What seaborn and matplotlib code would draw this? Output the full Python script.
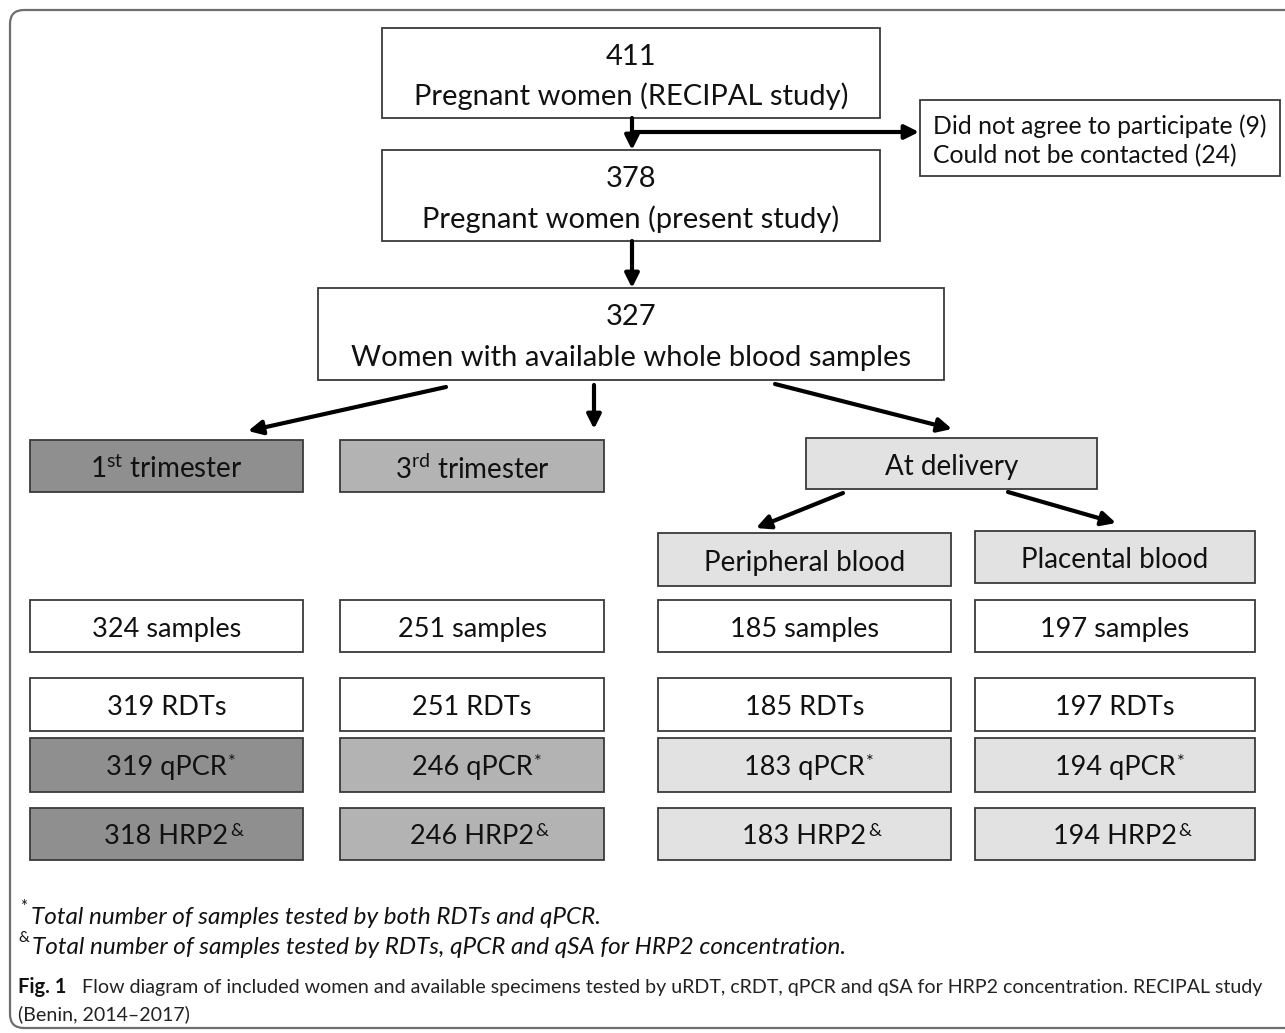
import matplotlib
matplotlib.use("Agg")
import matplotlib.pyplot as plt
from matplotlib.patches import FancyBboxPatch, Rectangle
import seaborn as sns

# ------------------------------------------------------------
# Data
# ------------------------------------------------------------
flow_counts = [411, 378, 327]
flow_labels = ["Pregnant women (RECIPAL study)",
               "Pregnant women (present study)",
               "Women with available whole blood samples"]
excluded_labels = ["Did not agree to participate", "Could not be contacted"]
excluded_counts = [9, 24]

groups = ["1$\\mathregular{^{st}}$ trimester", "3$\\mathregular{^{rd}}$ trimester",
          "Peripheral blood", "Placental blood"]
delivery_label = "At delivery"
samples = [324, 251, 185, 197]
rdts = [319, 251, 185, 197]
qpcr = [319, 246, 183, 194]
hrp2 = [318, 246, 183, 194]

footnotes = ["Total number of samples tested by both RDTs and qPCR.",
             "Total number of samples tested by RDTs, qPCR and qSA for HRP2 concentration."]
caption = ("Flow diagram of included women and available specimens tested by uRDT, cRDT, "
           "qPCR and qSA for HRP2 concentration. RECIPAL study")
caption2 = "(Benin, 2014\u20132017)"

# ------------------------------------------------------------
# Style
# ------------------------------------------------------------
sns.set_theme(style="white")
plt.rcParams['font.family'] = ['Lato', 'DejaVu Sans']
plt.rcParams['mathtext.fontset'] = 'custom'
plt.rcParams['mathtext.rm'] = 'Lato'
plt.rcParams['mathtext.it'] = 'Lato:italic'

group_fill = ["#8f8f8f", "#b3b3b3", "#e2e2e2", "#e2e2e2"]
edge = "#3a3a3a"
ink = "#111111"

fig = plt.figure(figsize=(12.85, 10.33), dpi=100)
ax = fig.add_axes([0, 0, 1, 1])
ax.set_xlim(0, 1285)
ax.set_ylim(1033, 0)
ax.axis("off")

# outer frame (right side runs past the image)
ax.add_patch(FancyBboxPatch((10, 10), 1320, 1018,
                            boxstyle="round,pad=0,rounding_size=14",
                            fc="none", ec="#6e6e6e", lw=1.6))


def box(x0, x1, y0, y1, text, fc="white", size=20, sup=None):
    ax.add_patch(Rectangle((x0, y0), x1 - x0, y1 - y0, fc=fc, ec=edge, lw=1.3, zorder=2))
    t = ax.text((x0 + x1) / 2, (y0 + y1) / 2 + 3, text, ha="center", va="center",
                fontsize=size, color=ink, zorder=3)
    if sup:
        ax.annotate(sup, xy=(1.0, 1.0), xycoords=t, ha="left", va="top",
                    fontsize=size * 0.68, color=ink, zorder=3,
                    xytext=(1, 1), textcoords="offset points")
    return t


def arrow(x0, y0, x1, y1):
    ax.annotate("", xy=(x1, y1), xytext=(x0, y0),
                arrowprops=dict(arrowstyle="-|>,head_length=0.7,head_width=0.35",
                                color="black", lw=3, shrinkA=0, shrinkB=0), zorder=4)


# top flow boxes
flow_geom = [(382, 880, 28, 118), (382, 880, 150, 241), (318, 944, 288, 380)]
for (x0, x1, y0, y1), n, lab in zip(flow_geom, flow_counts, flow_labels):
    ax.add_patch(Rectangle((x0, y0), x1 - x0, y1 - y0, fc="white", ec=edge, lw=1.3, zorder=2))
    cx = (x0 + x1) / 2
    ax.text(cx, y0 + 0.32 * (y1 - y0), str(n), ha="center", va="center",
            fontsize=21, color=ink, zorder=3)
    ax.text(cx, y0 + 0.76 * (y1 - y0), lab, ha="center", va="center",
            fontsize=21, color=ink, zorder=3)

# excluded box
ax.add_patch(Rectangle((920, 100), 360, 76, fc="white", ec=edge, lw=1.3, zorder=2))
for i, (lab, n) in enumerate(zip(excluded_labels, excluded_counts)):
    ax.text(933, 126 + 30 * i, f"{lab} ({n})", ha="left", va="center",
            fontsize=17.8, color=ink)

# arrows of the flow
ax.plot([632, 632], [118, 132], color="black", lw=3, zorder=4)
arrow(632, 132, 632, 150)
arrow(632, 132, 919, 132)
arrow(632, 241, 632, 288)
arrow(446, 387, 248, 431)
arrow(594, 385, 594, 429)
arrow(775, 384, 952, 429)
arrow(843, 493, 756, 528)
arrow(1008, 492, 1116, 523)

# group headers
col_x = [(30, 303), (340, 604), (658, 951), (975, 1255)]
head_y = [(440, 492), (440, 492), (533, 586), (531, 583)]
for (x0, x1), (y0, y1), lab, fc in zip(col_x, head_y, groups, group_fill):
    box(x0, x1, y0, y1, lab, fc=fc, size=20)
box(806, 1097, 438, 489, delivery_label, fc="#e2e2e2", size=20)

# sample rows
rows = [(samples, "{} samples", (600, 652), False, None),
        (rdts, "{} RDTs", (678, 731), False, None),
        (qpcr, "{} qPCR", (738, 792), True, "*"),
        (hrp2, "{} HRP2", (808, 860), True, "&")]
for vals, fmt, (y0, y1), shaded, sup in rows:
    for (x0, x1), v, fc in zip(col_x, vals, group_fill):
        box(x0, x1, y0, y1, fmt.format(v), fc=fc if shaded else "white", size=19.5, sup=sup)

# footnotes
ax.text(20, 907, "*", fontsize=12, ha="left", va="center", color=ink)
ax.text(31, 918, footnotes[0], fontsize=17.5, style="italic", ha="left", va="center", color=ink)
ax.text(18, 938, "&", fontsize=11, ha="left", va="center", color=ink)
ax.text(32, 947, footnotes[1], fontsize=17.5, style="italic", ha="left", va="center", color=ink)

# caption
ax.text(18, 987, "Fig. 1", fontsize=14.5, weight="bold", ha="left", va="center", color=ink)
ax.text(82, 987, caption, fontsize=14.1, ha="left", va="center", color="#222222")
ax.text(18, 1014, caption2, fontsize=14.1, ha="left", va="center", color="#222222")

fig.savefig("out.png", dpi=100)
